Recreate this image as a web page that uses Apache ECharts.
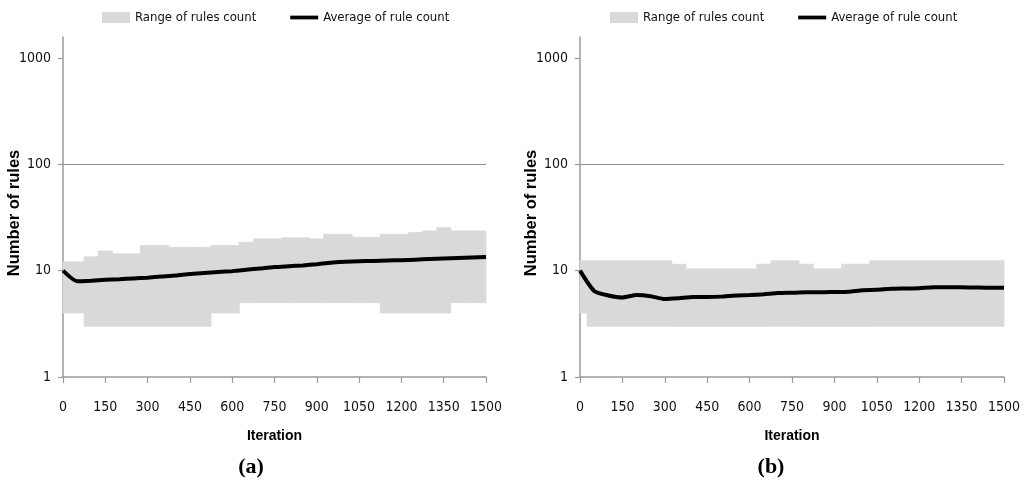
<!DOCTYPE html>
<html><head><meta charset="utf-8">
<script src="https://cdn.jsdelivr.net/npm/echarts@6/dist/echarts.min.js"></script>
<style>html,body{margin:0;padding:0;background:#fff}#c{width:1024px;height:488px}</style>
</head><body><div id="c"></div>
<script>
// ---- data ----
const iterations = [0,50,100,150,200,250,300,350,400,450,500,550,600,650,700,750,800,850,900,950,1000,1050,1100,1150,1200,1250,1300,1350,1400,1450,1500];
const xTickInterval = 150;
const yTickValues = [1, 10, 100, 1000];

// panel (a)
const rangeMinA = [4,4,3,3,3,3,3,3,3,3,3,4,4,5,5,5,5,5,5,5,5,5,5,4,4,4,4,4,5,5,5];
const rangeMaxA = [12.1,12.1,13.5,15.3,14.4,14.4,17.2,17.2,16.6,16.6,16.6,17.2,17.2,18.5,19.9,19.9,20.4,20.4,19.9,22,22,20.6,20.6,22,22,22.8,23.6,25.4,23.6,23.6,23.6];
const avgA = [10,7.95,8.05,8.2,8.3,8.45,8.6,8.8,9.0,9.3,9.5,9.7,9.9,10.2,10.5,10.8,11.0,11.2,11.5,11.9,12.1,12.25,12.35,12.45,12.55,12.7,12.85,13.0,13.15,13.3,13.45];

// panel (b)
const rangeMinB = [4,3,3,3,3,3,3,3,3,3,3,3,3,3,3,3,3,3,3,3,3,3,3,3,3,3,3,3,3,3,3];
const rangeMaxB = [12.4,12.4,12.4,12.4,12.4,12.4,12.4,11.5,10.4,10.4,10.4,10.4,10.4,11.5,12.4,12.4,11.5,10.4,10.4,11.5,11.5,12.4,12.4,12.4,12.4,12.4,12.4,12.4,12.4,12.4,12.4];
const avgB = [10,6.45,5.85,5.6,5.9,5.75,5.4,5.5,5.65,5.65,5.7,5.85,5.9,6.0,6.15,6.2,6.25,6.25,6.3,6.35,6.55,6.6,6.75,6.8,6.85,7.0,7.0,7.0,6.95,6.9,6.9];

const seriesNames = ['Range of rules count', 'Average of rule count'];
const panelLabels = ['a', 'b'];

// ---- style ----
const FONT = "'DejaVu Sans Condensed','Liberation Sans',Arial,sans-serif";
const BOLDFONT = "'Liberation Sans',Arial,sans-serif";
const BAND = '#d9d9d9';
const AXIS = '#9a9a9a';
const GRIDC = '#8f8f8f';
const X_MIN = iterations[0], X_MAX = iterations[iterations.length - 1];
const Y_TOP = Math.pow(10, 3 + 21 / 106.3);
const halfStep = (iterations[1] - iterations[0]) / 2;

function renderBand(params, api) {
  const x = api.value(0), lo = api.value(1), hi = api.value(2);
  const x0 = Math.max(X_MIN, x - halfStep), x1 = Math.min(X_MAX, x + halfStep);
  const p0 = api.coord([x0, hi]), p1 = api.coord([x1, lo]);
  return {
    type: 'rect',
    shape: { x: p0[0], y: p0[1], width: p1[0] - p0[0], height: p1[1] - p0[1] },
    style: { fill: BAND, stroke: BAND, lineWidth: 0.8 }
  };
}

function xAxis(gi) {
  return {
    type: 'value', gridIndex: gi, min: X_MIN, max: X_MAX, interval: xTickInterval,
    name: 'Iteration', nameLocation: 'middle', nameGap: 52,
    nameTextStyle: { fontFamily: BOLDFONT, fontWeight: 'bold', fontSize: 14, color: '#000' },
    axisLine: { lineStyle: { color: AXIS, width: 1.5 } },
    axisTick: { length: 6, lineStyle: { color: AXIS, width: 1.2 } },
    axisLabel: { fontFamily: FONT, fontSize: 14, color: '#111', margin: 23, formatter: v => String(Math.round(v)) },
    splitLine: { show: false }
  };
}
function yAxis(gi) {
  return {
    type: 'log', logBase: 10, gridIndex: gi, min: 1, max: Y_TOP,
    name: 'Number of rules', nameLocation: 'middle', nameGap: 40, nameRotate: 90,
    nameMoveOverlap: false,
    nameTextStyle: { fontFamily: BOLDFONT, fontWeight: 'bold', fontSize: 16.5, color: '#000', padding: [0, 12, 0, 0] },
    axisLine: { show: true, lineStyle: { color: AXIS, width: 1.5 } },
    axisTick: { show: true, length: 5, customValues: yTickValues, lineStyle: { color: AXIS, width: 1.2 } },
    axisLabel: { customValues: yTickValues, fontFamily: FONT, fontSize: 14, color: '#111', margin: 12, formatter: v => String(Math.round(v)) },
    splitLine: { show: true, showMinLine: false, showMaxLine: false, lineStyle: { color: GRIDC, width: 1 } }
  };
}
function legend(left) {
  return {
    left: left, top: 6, itemWidth: 28, itemHeight: 11, itemGap: 34,
    textStyle: { fontFamily: FONT, fontSize: 13, color: '#111' },
    data: [
      { name: seriesNames[0], icon: 'rect' },
      { name: seriesNames[1], icon: 'path://M0,0L30,0L30,4L0,4Z' }
    ]
  };
}
function bandSeries(gi, mins, maxs) {
  return {
    type: 'custom', name: seriesNames[0], xAxisIndex: gi, yAxisIndex: gi,
    renderItem: renderBand, itemStyle: { color: BAND }, z: 2, silent: true,
    encode: { x: 0, y: [1, 2] },
    data: iterations.map((x, i) => [x, mins[i], maxs[i]])
  };
}
function avgSeries(gi, avg) {
  return {
    type: 'line', name: seriesNames[1], xAxisIndex: gi, yAxisIndex: gi,
    symbol: 'none', smooth: 0.2, z: 3, silent: true,
    lineStyle: { color: '#000', width: 4 }, itemStyle: { color: '#000' },
    data: iterations.map((x, i) => [x, avg[i]])
  };
}

const chart = echarts.init(document.getElementById('c'), null, { renderer: 'canvas' });
chart.setOption({
  animation: false,
  backgroundColor: '#fff',
  grid: [
    { left: 63, top: 37, width: 423, height: 340 },
    { left: 580, top: 37, width: 424, height: 340 }
  ],
  xAxis: [xAxis(0), xAxis(1)],
  yAxis: [yAxis(0), yAxis(1)],
  legend: [legend(97), legend(605)],
  series: [
    bandSeries(0, rangeMinA, rangeMaxA), avgSeries(0, avgA),
    bandSeries(1, rangeMinB, rangeMaxB), avgSeries(1, avgB)
  ],
  graphic: [
    { type: 'text', x: 251, y: 467, style: { text: '(' + panelLabels[0] + ')', fill: '#000', font: "bold 22px 'Liberation Serif', serif", textAlign: 'center', textVerticalAlign: 'middle' } },
    { type: 'text', x: 771, y: 467, style: { text: '(' + panelLabels[1] + ')', fill: '#000', font: "bold 22px 'Liberation Serif', serif", textAlign: 'center', textVerticalAlign: 'middle' } }
  ]
});
</script>
</body></html>
